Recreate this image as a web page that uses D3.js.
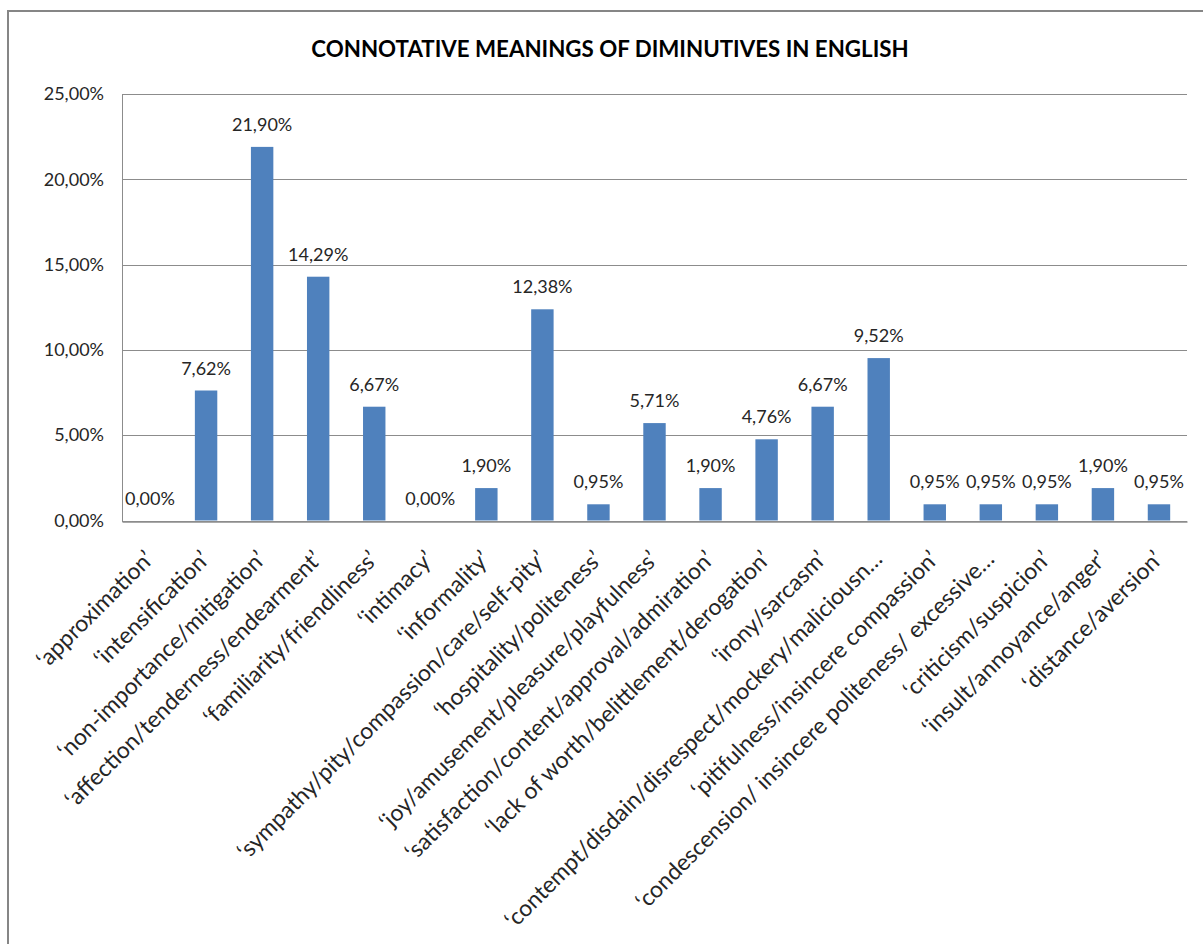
<!DOCTYPE html>
<html>
<head>
<meta charset="utf-8">
<script src="https://cdn.jsdelivr.net/npm/d3@7"></script>
<style>
  html, body { margin: 0; padding: 0; background: #ffffff; }
  svg { display: block; }
  text { font-family: Lato, "Open Sans", sans-serif; }
</style>
</head>
<body>
<svg id="chart" width="1203" height="944"></svg>
<script>
// Share of each connotative meaning among English diminutives (%)
const categories = [
  "‘approximation’",
  "‘intensification’",
  "‘non-importance/mitigation’",
  "‘affection/tenderness/endearment’",
  "‘familiarity/friendliness’",
  "‘intimacy’",
  "‘informality’",
  "‘sympathy/pity/compassion/care/self-pity’",
  "‘hospitality/politeness’",
  "‘joy/amusement/pleasure/playfulness’",
  "‘satisfaction/content/approval/admiration’",
  "‘lack of worth/belittlement/derogation’",
  "‘irony/sarcasm’",
  "‘contempt/disdain/disrespect/mockery/maliciousn…",
  "‘pitifulness/insincere compassion’",
  "‘condescension/ insincere politeness/ excessive…",
  "‘criticism/suspicion’",
  "‘insult/annoyance/anger’",
  "‘distance/aversion’"
];
const values = [0.00, 7.62, 21.90, 14.29, 6.67, 0.00, 1.90, 12.38, 0.95, 5.71,
                1.90, 4.76, 6.67, 9.52, 0.95, 0.95, 0.95, 1.90, 0.95];
const yTicks = [0, 5, 10, 15, 20, 25];
const title = "CONNOTATIVE MEANINGS OF DIMINUTIVES IN ENGLISH";

const svg = d3.select("#chart");
const W = 1203, H = 944;
const plot = { left: 122, top: 94, right: 1187, bottom: 520.5 };

const fmt = v => v.toFixed(2).replace(".", ",") + "%";

// chart frame
svg.append("rect")
  .attr("x", 8).attr("y", 11)
  .attr("width", W + 20).attr("height", H + 20)
  .attr("fill", "#ffffff")
  .attr("stroke", "#868686").attr("stroke-width", 2);

const x = d3.scaleBand()
  .domain(categories)
  .range([plot.left, plot.right])
  .paddingInner(0.6)
  .paddingOuter(0.3);

const y = d3.scaleLinear()
  .domain([0, 25])
  .range([plot.bottom, plot.top]);

// horizontal gridlines
svg.append("g")
  .selectAll("line")
  .data(yTicks)
  .join("line")
  .attr("x1", plot.left).attr("x2", plot.right)
  .attr("y1", d => Math.round(y(d)) + 0.5).attr("y2", d => Math.round(y(d)) + 0.5)
  .attr("stroke", "#8c8c8c").attr("stroke-width", 1);

// y axis
const yAxis = d3.axisLeft(y)
  .tickValues(yTicks)
  .tickSize(0)
  .tickPadding(18)
  .tickFormat(fmt);
const gy = svg.append("g")
  .attr("transform", `translate(${plot.left},0)`)
  .call(yAxis);
gy.select(".domain").attr("stroke", "#8c8c8c");
gy.selectAll("text")
  .attr("font-size", 18)
  .attr("fill", "#262626")
  .style("font-family", "Lato, sans-serif");

// bars
svg.append("g")
  .selectAll("rect")
  .data(values)
  .join("rect")
  .attr("x", (d, i) => x(categories[i]))
  .attr("width", x.bandwidth())
  .attr("y", d => y(d))
  .attr("height", d => y(0) - y(d))
  .attr("fill", "#4f81bd");

// x axis baseline
const xAxis = d3.axisBottom(x).tickSize(0).tickFormat("");
const gx = svg.append("g")
  .attr("transform", `translate(0,${Math.round(plot.bottom) + 0.5})`)
  .call(xAxis);
gx.select(".domain").attr("stroke", "#8c8c8c").attr("stroke-width", 1.5);

// value labels
svg.append("g")
  .selectAll("text")
  .data(values)
  .join("text")
  .attr("x", (d, i) => x(categories[i]) + x.bandwidth() / 2)
  .attr("y", d => y(d) - 16)
  .attr("text-anchor", "middle")
  .attr("font-size", 18)
  .attr("fill", "#262626")
  .text(fmt);

// rotated category labels
svg.append("g")
  .selectAll("text")
  .data(categories)
  .join("text")
  .attr("transform", d => `translate(${x(d) + x.bandwidth() / 2 + 5},${plot.bottom + 40}) rotate(-45)`)
  .attr("text-anchor", "end")
  .attr("font-size", 23)
  .attr("fill", "#262626")
  .text(d => d);

// title
svg.append("text")
  .attr("x", 610)
  .attr("y", 57)
  .attr("text-anchor", "middle")
  .attr("font-size", 22.3)
  .attr("font-weight", "bold")
  .attr("fill", "#000000")
  .text(title);
</script>
</body>
</html>
